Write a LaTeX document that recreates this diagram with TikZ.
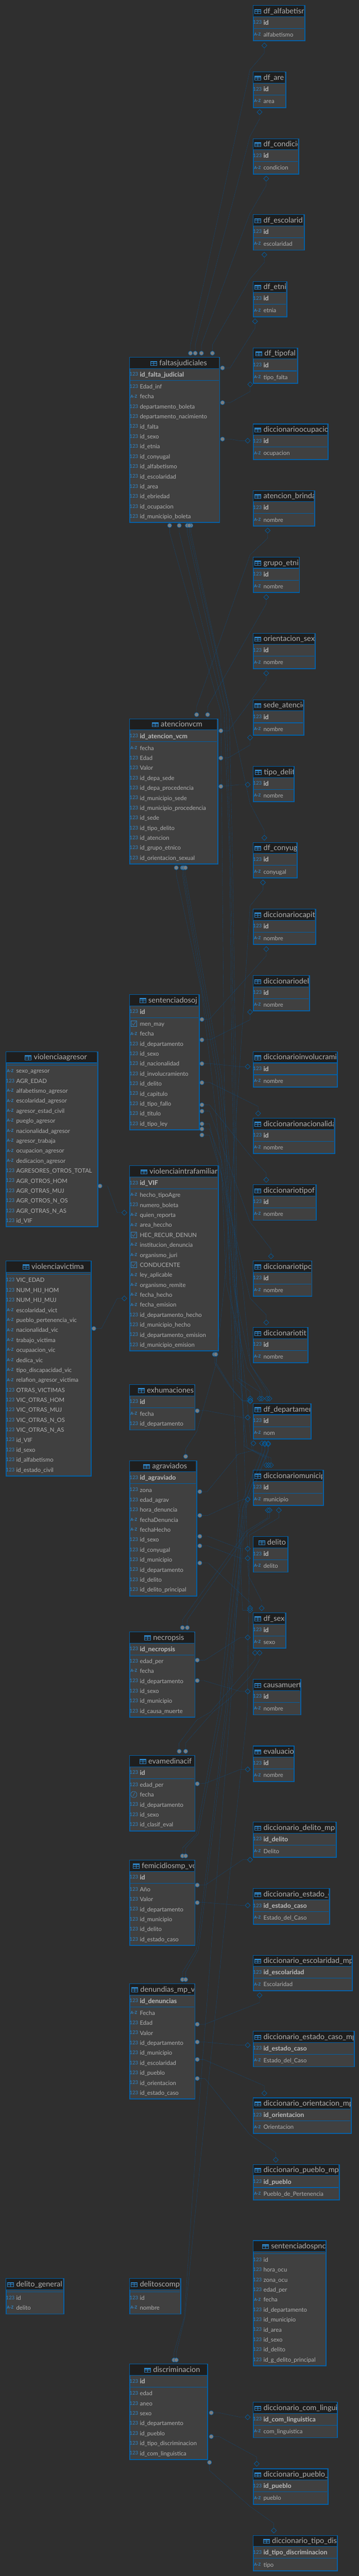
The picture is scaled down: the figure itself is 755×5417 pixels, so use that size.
\documentclass[tikz,border=0pt]{standalone}
\usepackage{fontspec}
\setmainfont{Lato}
\usetikzlibrary{shapes.geometric}
\definecolor{bgcol}{HTML}{2F2F2F}
\definecolor{bodycol}{HTML}{404040}
\definecolor{headcol}{HTML}{1E1E1E}
\definecolor{edgecol}{HTML}{0060A8}
\definecolor{iconcol}{HTML}{2F86C8}
\definecolor{textcol}{HTML}{B2B2B2}
\definecolor{relcol}{HTML}{0D4F86}
\definecolor{dotcol}{HTML}{7C7C7C}
\tikzset{
entbox/.style={draw=edgecol,fill=bodycol,line width=2pt,anchor=north west,inner sep=0pt},
enthead/.style={fill=headcol,anchor=north west,inner sep=0pt},
entline/.style={draw=edgecol,line width=1.2pt},
enttitle/.style={text=textcol,anchor=base west,inner sep=0pt,font=\fontsize{15.7}{17}\selectfont},
fieldtext/.style={text=textcol,anchor=base west,inner sep=0pt,font=\fontsize{12.3}{14}\selectfont},
pktext/.style={text=textcol!85!white,anchor=base west,inner sep=0pt,font=\fontsize{13.5}{15}\bfseries\selectfont},
icontext/.style={text=iconcol,inner sep=0pt,font=\fontsize{10.5}{12}\selectfont},
iconbold/.style={text=iconcol,inner sep=0pt,font=\fontsize{8.5}{10}\bfseries\selectfont},
iconbox/.style={draw=iconcol,line width=.7pt,inner sep=0pt,minimum size=12.5pt},
iconround/.style={draw=iconcol,line width=.7pt,circle,inner sep=0pt,minimum size=13pt},
tabicon/.style={draw=iconcol,line width=1pt,inner sep=0pt,minimum width=13pt,minimum height=9pt,fill=headcol},
fkdot/.style={circle,draw=edgecol,fill=dotcol,line width=.8pt,minimum size=9pt,inner sep=0pt},
pkdiam/.style={diamond,aspect=1,draw=edgecol,line width=.8pt,minimum size=11pt,inner sep=0pt},
relline/.style={draw=relcol,line width=.45pt,dash pattern=on .9pt off .6pt}
}
\newcommand{\icn}[3]{\node[icontext] (#1) at (#2,#3) {123};}
\newcommand{\ica}[3]{\node[iconbold] (#1) at (#2,#3) {A-Z};}
\newcommand{\icc}[3]{\node[iconbox] (#1) at (#2,#3) {};
\draw[draw=iconcol,line width=.7pt] ([shift={(-3.5,0)}]#1.center)--([shift={(-1,3.5)}]#1.center)--([shift={(4,-4)}]#1.center);}
\newcommand{\ick}[3]{\node[iconround] (#1) at (#2,#3) {};
\draw[draw=iconcol,line width=.7pt] ([shift={(-2,3.5)}]#1.center)--(#1.center)--([shift={(2,-4)}]#1.center);}
\newcommand{\entity}[8]{
\def\pkname{#7}
\ifx\pkname\empty \def\ybase{42}\def\hbase{34}\else \def\ybase{63}\def\hbase{55}\fi
\foreach \ty/\fld [count=\n] in {#8} {\global\let\nrows\n}
\pgfmathsetmacro\htot{\hbase+21*\nrows}
\node[entbox,minimum width=#4pt-2pt,minimum height=\htot pt-2pt] (#1) at (#2+1,#3+1) {};
\node[enthead,minimum width=#4pt-4pt,minimum height=23pt] (#1-h) at (#2+2,#3+2) {};
\draw[entline] (#2+2,#3+25)--(#2+#4-2,#3+25);
\ifx\pkname\empty
\draw[entline,line width=.8pt] (#2+2,#3+29.5)--(#2+#4-2,#3+29.5);
\else
\draw[entline] (#2+2,#3+50)--(#2+#4-2,#3+50);
\icn{#1-pi}{#2+10.5}{#3+37}
\node[pktext] (#1-p) at (#2+23,#3+42.5) {#7};
\fi
\begin{scope}
\clip (#2+2,#3+2) rectangle (#2+#4-2,#3+25);
\node[tabicon] (#1-ic) at (#2+#5-11.5,#3+14) {};
\fill[iconcol] (#2+#5-18,#3+9.5) rectangle (#2+#5-5,#3+12);
\draw[iconcol,line width=.9pt] (#2+#5-11.5,#3+9.5)--(#2+#5-11.5,#3+18.5) (#2+#5-18,#3+14.5)--(#2+#5-5,#3+14.5);
\node[enttitle] (#1-t) at (#2+#5,#3+18.5) {#6};
\end{scope}
\foreach \ty/\fld [count=\rw] in {#8} {
\pgfmathsetmacro\ry{#3+\ybase+21*(\rw-1)}
\csname ic\ty\endcsname{#1-i\rw}{#2+10.5}{\ry-.5}
\node[fieldtext] (#1-r\rw) at (#2+23,\ry+4.5) {\fld};
}
}
\newcommand{\rel}[4]{
\node[fkdot] (#1-d) at (#2) {};
\node[pkdiam] (#1-k) at (#4) {};
\draw[relline] (#1-d)--#3--(#1-k);
}
\begin{document}
\catcode`\_=12
\begin{tikzpicture}[x=1pt,y=-1pt]
\fill[bgcol] (0,0) rectangle (755,5417);
\useasboundingbox (0,0) rectangle (755,5417);
\entity{alfa}{531}{10}{110}{23}{df_alfabetism}{id}{a/alfabetismo}
\entity{area}{531}{150}{70}{23}{df_are}{id}{a/area}
\entity{cond}{531}{290}{97}{23}{df_condicio}{id}{a/condicion}
\entity{esco}{531}{450}{109}{23}{df_escolarid}{id}{a/escolaridad}
\entity{etni}{531}{590}{72}{23}{df_etni}{id}{a/etnia}
\entity{tfal}{531}{730}{95}{25}{df_tipofal}{id}{a/tipo_falta}
\entity{ocup}{531}{890}{159}{23}{diccionarioocupacio}{id}{a/ocupacion}
\entity{aten}{531}{1030}{131}{23}{atencion_brinda}{id}{a/nombre}
\entity{grup}{531}{1170}{99}{23}{grupo_etnic}{id}{a/nombre}
\entity{orie}{531}{1330}{132}{23}{orientacion_sexu}{id}{a/nombre}
\entity{sede}{531}{1470}{108}{23}{sede_atencio}{id}{a/nombre}
\entity{tdel}{531}{1610}{88}{24}{tipo_delit}{id}{a/nombre}
\entity{cony}{531}{1770}{94}{23}{df_conyug}{id}{a/conyugal}
\entity{capi}{531}{1910}{133}{23}{diccionariocapit}{id}{a/nombre}
\entity{dele}{531}{2050}{120}{23}{diccionariodel}{id}{a/nombre}
\entity{invo}{531}{2210}{179}{23}{diccionarioinvolucrami}{id}{a/nombre}
\entity{naci}{531}{2350}{173}{23}{diccionarionacionalida}{id}{a/nombre}
\entity{tifa}{531}{2490}{134}{23}{diccionariotipof}{id}{a/nombre}
\entity{tley}{531}{2650}{125}{23}{diccionariotipo}{id}{a/nombre}
\entity{titu}{531}{2790}{117}{23}{diccionariotit}{id}{a/nombre}
\entity{depa}{531}{2950}{123}{23}{df_departamen}{id}{a/nom}
\entity{muni}{531}{3090}{149}{23}{diccionariomunicip}{id}{a/municipio}
\entity{deli}{531}{3230}{75}{31}{delito}{id}{a/delito}
\entity{sexo}{531}{3390}{70}{23}{df_sexo}{id}{a/sexo}
\entity{caus}{531}{3530}{102}{23}{causamuert}{id}{a/nombre}
\entity{eval}{531}{3670}{88}{23}{evaluacio}{id}{a/nombre}
\entity{dmp}{531}{3830}{176}{23}{diccionario_delito_mp}{id_delito}{a/Delito}
\entity{ecas}{531}{3970}{162}{23}{diccionario_estado_c}{id_estado_caso}{a/Estado_del_Caso}
\entity{emp}{531}{4110}{210}{23}{diccionario_escolaridad_mp}{id_escolaridad}{a/Escolaridad}
\entity{cmp}{531}{4270}{214}{23}{diccionario_estado_caso_mp}{id_estado_caso}{a/Estado_del_Caso}
\entity{omp}{531}{4410}{208}{23}{diccionario_orientacion_mp}{id_orientacion}{a/Orientacion}
\entity{pmp}{531}{4550}{183}{23}{diccionario_pueblo_mp}{id_pueblo}{a/Pueblo_de_Pertenencia}
\entity{spnc}{531}{4710}{155}{39}{sentenciadospnc}{}{n/id,n/hora_ocu,n/zona_ocu,n/edad_per,a/fecha,n/id_departamento,n/id_municipio,n/id_area,n/id_sexo,n/id_delito,n/id_g_delito_principal}
\entity{clin}{531}{5050}{179}{23}{diccionario_com_lingui}{id_com_linguistica}{a/com_linguistica}
\entity{pueb}{531}{5190}{159}{23}{diccionario_pueblo_}{id_pueblo}{a/pueblo}
\entity{tdis}{531}{5330}{179}{41}{diccionario_tipo_dis}{id_tipo_discriminacion}{a/tipo}
\entity{falt}{271}{750}{191}{64}{faltasjudiciales}{id_falta_judicial}{n/Edad_inf,a/fecha,n/departamento_boleta,n/departamento_nacimiento,n/id_falta,n/id_sexo,n/id_etnia,n/id_conyugal,n/id_alfabetismo,n/id_escolaridad,n/id_area,n/id_ebriedad,n/id_ocupacion,n/id_municipio_boleta}
\entity{avcm}{271}{1510}{187}{67}{atencionvcm}{id_atencion_vcm}{a/fecha,n/Edad,n/Valor,n/id_depa_sede,n/id_depa_procedencia,n/id_municipio_sede,n/id_municipio_procedencia,n/id_sede,n/id_tipo_delito,n/id_atencion,n/id_grupo_etnico,n/id_orientacion_sexual}
\entity{soj}{271}{2090}{148}{41}{sentenciadosoj}{id}{c/men_may,a/fecha,n/id_departamento,n/id_sexo,n/id_nacionalidad,n/id_involucramiento,n/id_delito,n/id_capitulo,n/id_tipo_fallo,n/id_titulo,n/id_tipo_ley}
\entity{vif}{271}{2450}{188}{43.5}{violenciaintrafamiliar}{id_VIF}{a/hecho_tipoAgre,n/numero_boleta,a/quien_reporta,a/area_heccho,c/HEC_RECUR_DENUN,a/institucion_denuncia,a/organismo_juri,c/CONDUCENTE,a/ley_aplicable,a/organismo_remite,a/fecha_hecho,a/fecha_emision,n/id_departamento_hecho,n/id_municipio_hecho,n/id_departamento_emision,n/id_municipio_emision}
\entity{exhu}{271}{2910}{139}{38}{exhumaciones}{id}{a/fecha,n/id_departamento}
\entity{agra}{271}{3070}{143}{49}{agraviados}{id_agraviado}{n/zona,n/edad_agrav,n/hora_denuncia,a/fechaDenuncia,a/fechaHecho,n/id_sexo,n/id_conyugal,n/id_municipio,n/id_departamento,n/id_delito,n/id_delito_principal}
\entity{necr}{271}{3430}{139}{51}{necropsis}{id_necropsis}{n/edad_per,a/fecha,n/id_departamento,n/id_sexo,n/id_municipio,n/id_causa_muerte}
\entity{evam}{271}{3690}{139}{41}{evamedinacif}{id}{n/edad_per,k/fecha,n/id_departamento,n/id_sexo,n/id_clasif_eval}
\entity{femi}{271}{3910}{139}{27}{femicidiosmp_vc}{id}{n/Año,n/Valor,n/id_departamento,n/id_municipio,n/id_delito,n/id_estado_caso}
\entity{denu}{271}{4170}{139}{24}{denundias_mp_vc}{id_denuncias}{a/Fecha,n/Edad,n/Valor,n/id_departamento,n/id_municipio,n/id_escolaridad,n/id_pueblo,n/id_orientacion,n/id_estado_caso}
\entity{dcom}{271}{4790}{109}{23}{delitoscomp}{}{n/id,a/nombre}
\entity{disc}{271}{4970}{166}{51}{discriminacion}{id}{n/edad,n/aneo,n/sexo,n/id_departamento,n/id_pueblo,n/id_tipo_discriminacion,n/id_com_linguistica}
\entity{vagr}{11}{2210}{195}{60}{violenciaagresor}{}{a/sexo_agresor,n/AGR_EDAD,a/alfabetismo_agresor,a/escolaridad_agresor,a/agresor_estad_civil,a/pueglo_agresor,a/nacionalidad_agresor,a/agresor_trabaja,a/ocupacion_agresor,a/dedicacion_agresor,n/AGRESORES_OTROS_TOTAL,n/AGR_OTROS_HOM,n/AGR_OTRAS_MUJ,n/AGR_OTROS_N_OS,n/AGR_OTRAS_N_AS,n/id_VIF}
\entity{vvic}{11}{2650}{181}{55}{violenciavictima}{}{n/VIC_EDAD,n/NUM_HIJ_HOM,n/NUM_HIJ_MUJ,a/escolaridad_vict,a/pueblo_pertenencia_vic,a/nacionalidad_vic,a/trabajo_victima,a/ocupaacion_vic,a/dedica_vic,a/tipo_discapacidad_vic,a/relafion_agresor_victima,n/OTRAS_VICTIMAS,n/VIC_OTRAS_HOM,n/VIC_OTRAS_MUJ,n/VIC_OTRAS_N_OS,n/VIC_OTRAS_N_AS,n/id_VIF,n/id_sexo,n/id_alfabetismo,n/id_estado_civil}
\entity{dgen}{11}{4790}{123}{23}{delito_general}{}{n/id,a/delito}
\rel{fa1}{400.6,742.7}{(400.6,725)--(525.8,146.7)--(556,111.7)}{556,95.7}
\rel{fa2}{410.7,742.7}{(410.7,725)--(525.8,286.7)--(546,250)}{546,235.7}
\rel{fa3}{423.7,742.7}{(423.7,725)--(525,450)--(560,390)}{560,375.7}
\rel{fa4}{446.8,742.7}{(446.8,725)--(525.8,586.7)--(556,551.7)}{556,535.7}
\rel{fa5}{468,773.7}{(484,773.7)--(536.4,690)}{536.4,675.7}
\rel{fa6}{468,846.7}{(484,846.7)--(526.3,823.3)}{526.3,808.3}
\rel{fa7}{468,923.3}{(484,923.3)--(503,926.7)}{521,926.7}
\rel{fa8}{401.5,1105}{(401.5,1120)--(526,1690)--(556,1746.7)}{556,1761.7}
\rel{fa9}{356.8,1105}{(356.8,1120)--(422,1350)--(464.6,1497)--(472,2300)--(491,2923)--(510,3386)}{526,3386}
\rel{fa10}{377,1105}{(377,1120)--(471,1493)--(483,1800)--(488,2260)--(500.8,2898)--(546.5,2927)}{546.5,2941}
\rel{fa11}{394,1105}{(394,1120)--(476,1493)--(485,1800)--(492,2260)--(495,2900)--(526.3,2926.7)}{526.3,2941}
\rel{fa12}{398,1105}{(398,1120)--(482,1493)--(489,1800)--(496,2260)--(498,2700)--(515,3041.7)--(560,3066.7)}{560,3081}
\rel{av1}{413.6,1502.7}{(413.6,1486)--(526,1166.7)--(563,1131.7)}{563,1115.7}
\rel{av2}{436.7,1502.7}{(436.7,1486)--(514,1350)--(560,1270)}{560,1255.7}
\rel{av3}{464.6,1536.7}{(480.5,1536.7)--(560,1430)}{560,1415.7}
\rel{av4}{464.6,1594}{(480.5,1593.3)--(526,1566.7)}{526,1551}
\rel{av5}{464.6,1653.7}{(474,1653)--(503,1650)}{521,1650}
\rel{av6}{370.8,1824.7}{(370.8,1840)--(423.7,2083)--(445,2260)--(465,2440)--(476,2700)--(520,2877)--(551,2927)}{551,2941}
\rel{av7}{383.8,1824.7}{(383.8,1840)--(455,2260)--(473,2440)--(484,2700)--(520,3045)--(565,3066)}{565,3081}
\rel{av8}{386.6,1824.7}{(386.6,1840)--(460,2260)--(478,2440)--(490,2700)--(527,2870)--(562,2927)}{562,2941}
\rel{av9}{390,1824.7}{(390,1840)--(465,2260)--(482,2440)--(494,2700)--(530,3048)--(570,3066)}{570,3081}
\rel{so1}{424.7,2143.7}{(440.6,2143)--(560,2010)}{560,1995.7}
\rel{so2}{424.7,2186.7}{(443,2186)--(526,2144.3)}{526,2128}
\rel{so3}{424.7,2236.7}{(440.6,2236.3)--(503,2243)}{521,2243}
\rel{so4}{424.7,2276.7}{(440.6,2276)--(543,2326.7)}{543,2341.3}
\rel{so5}{424.7,2323.3}{(440.6,2323)--(526,2430)--(560,2466.7)}{560,2481}
\rel{so6}{424.7,2336.7}{(440.6,2336)--(526,2570)--(570,2626.7)}{570,2641.7}
\rel{so7}{424.7,2363.3}{(440.6,2363)--(526,2730)--(560,2765)}{560,2781}
\rel{so8}{424.7,2374}{(440.6,2374)--(466,2440)--(510,2700)--(527,2870)--(566.7,2927)}{566.7,2941}
\rel{so9}{424.7,2386.7}{(440.6,2387)--(466,2470)--(505,2800)--(522.4,3313)--(550.4,3366.7)}{550.4,3381.7}
\rel{va1}{210.4,2494}{(226.3,2494)--(246.5,2550)}{261.5,2550}
\rel{vv1}{197.4,2793.7}{(213.3,2793.7)--(246.5,2730.3)}{261.5,2730.3}
\rel{vi1}{451,2848}{(451,2865)--(481.5,2913)--(510,2946.7)}{526.3,2946.7}
\rel{vi2}{454,2848}{(454,2865)--(491,2925)--(510,2945)}{526.3,2945}
\rel{ex1}{415,2966.7}{(432,2966)--(510,2980.7)}{521,2980.7}
\rel{ag1}{420.3,3136.7}{(435.8,3136.7)--(500.8,3058)--(533,3050)}{533,3035}
\rel{ag2}{390.5,3062.7}{(390.5,3046.7)--(414,3010)--(455,2866)--(472,2700)--(503,2260)--(526,1905)--(553,1871.7)}{553,1855.7}
\rel{ag3}{420.3,3186.7}{(437,3186.7)--(510.4,3153)}{521,3153}
\rel{ag4}{420.3,3230.7}{(437,3230.7)--(505.6,3256.7)}{521,3256.7}
\rel{ag5}{420.3,3250.7}{(437,3250.7)--(505.6,3276.7)}{521,3276.7}
\rel{ag6}{420.3,3286.7}{(438,3286.7)--(526,3370)}{526,3381.7}
\rel{ne1}{383.8,3422.7}{(383.8,3406)--(517.6,3220)--(563.3,3191.7)}{563.3,3175.7}
\rel{ne2}{394,3422.7}{(394,3406)--(522.4,3221.7)--(567,3191.7)}{567,3175.7}
\rel{ne3}{415,3491}{(431,3491)--(505.6,3443.3)}{521,3443.3}
\rel{ne4}{415,3534}{(428.5,3534)--(505.6,3556.7)}{521,3556.7}
\rel{em1}{377,3682.7}{(376.5,3665.7)--(414,3616.7)--(443,3600)--(536.4,3490)}{536.4,3475.7}
\rel{em2}{390.5,3682.7}{(390,3665.7)--(448,3600)--(481.5,3573)--(525,3526.7)--(546,3490)}{546,3475.7}
\rel{em3}{415,3751}{(432,3750)--(505.6,3720.7)}{521,3720.7}
\rel{fe1}{383.8,3902.7}{(383.8,3885.7)--(413,3856.7)--(460,3600)--(505,3170)--(551,3050)}{551,3035}
\rel{fe2}{390.5,3902.7}{(390.5,3885.7)--(417,3856.7)--(466,3600)--(510,3175)--(557,3050)}{557,3035}
\rel{fe3}{415,3964}{(432,3964)--(510.4,3910.7)}{526,3910.7}
\rel{fe4}{415,4001}{(423.7,4000)--(505.6,4006.7)}{521,4006.7}
\rel{de1}{383.8,4162.7}{(383.8,4146.7)--(413,4100)--(420,4050)--(474,3600)--(515,3170)--(564,3050)}{564,3035}
\rel{de2}{390.5,4162.7}{(390.5,4146.7)--(417,4100)--(424,4050)--(478,3600)--(518,3170)--(564,3052)}{564,3037}
\rel{de3}{415,4256.7}{(431,4256.7)--(546,4211)}{546,4195.7}
\rel{de4}{415,4294}{(428.5,4294)--(503,4300.7)}{521,4300.7}
\rel{de5}{415,4330.7}{(428.5,4330.7)--(556,4386)}{556,4401.7}
\rel{de6}{415,4370.7}{(431,4370.7)--(525,4488.3)--(580,4526.7)}{580,4541.7}
\rel{di1}{366,4962.7}{(366,4946.7)--(387.6,4873)--(413,4500)--(447.8,4050)--(484,3600)--(511,3170)--(557,3052)}{557,3037}
\rel{di2}{370.8,4962.7}{(370.8,4946.7)--(389,4873)--(426,4500)--(471.9,4050)--(520,3600)--(525,3228)--(586.5,3191.7)}{586.5,3175.7}
\rel{di3}{444.4,5073.7}{(461,5073.7)--(505.6,5083)}{521,5083}
\rel{di4}{444.4,5123.7}{(461,5123.7)--(540,5166.7)}{540,5181}
\rel{di5}{440.6,5178}{(440.6,5195)--(525,5270)--(576,5306)}{576,5321.3}
\end{tikzpicture}
\end{document}
